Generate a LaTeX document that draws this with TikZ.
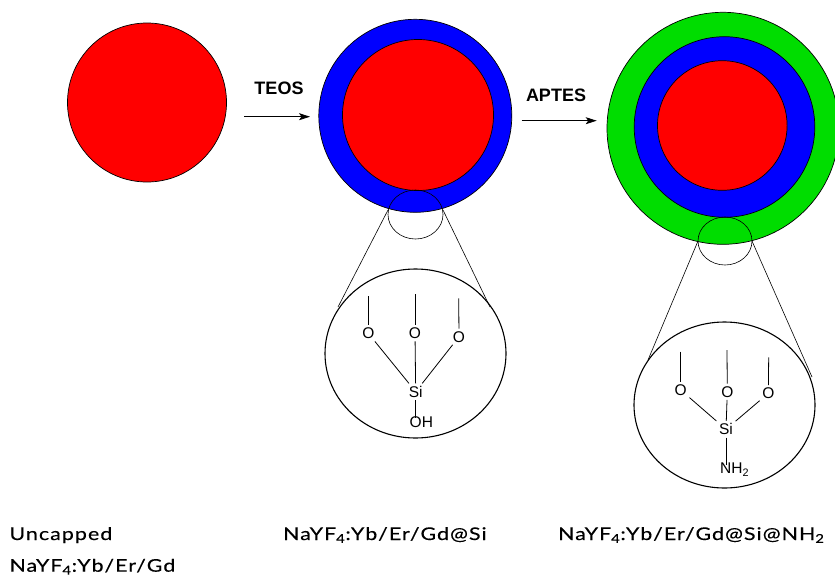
\documentclass[tikz,border=0pt]{standalone}
\usepackage{fontspec}
\setmainfont{Liberation Sans}
\newfontfamily\capfont[LetterSpace=5,FakeBold=0.3]{Lato}
\newcommand{\captext}[1]{\scalebox{1.22}[1]{#1}}
\usetikzlibrary{arrows.meta}
\definecolor{corered}{RGB}{255,0,0}
\definecolor{silicablue}{RGB}{0,0,255}
\definecolor{aminegreen}{RGB}{0,221,0}
\tikzset{
  shell/.style={draw=black, line width=0.7pt},
  lens/.style={draw=black, line width=0.6pt},
  zoomring/.style={draw=black, line width=1.1pt},
  bond/.style={draw=black, line width=0.8pt},
  atom/.style={inner sep=2.5pt, text depth=0pt, font=\fontsize{15.5}{15.5}\selectfont},
  reagent/.style={inner sep=0pt, font=\fontsize{18}{18}\selectfont\bfseries},
  react/.style={line width=0.8pt, -{Stealth[length=11pt,width=7pt,inset=2.5pt]}},
  caption/.style={inner sep=0pt, anchor=base west, font=\capfont\fontsize{17.5}{17.5}\selectfont},
}
\begin{document}
\begin{tikzpicture}[x=1pt,y=-1pt]
\useasboundingbox (0,0) rectangle (835,584);

% bare core
\fill[corered, shell] (147,102.5) circle (79.5);

% silica-coated particle
\fill[silicablue, shell] (415.3,115.8) circle (96.5);
\fill[corered, shell] (418,115) circle (75.5);

% amine-functionalised particle
\fill[aminegreen, shell] (723,128.3) circle (116);
\fill[silicablue, shell] (724.5,127) circle (90.3);
\fill[corered, shell] (722.3,125.5) circle (64.8);

% reaction arrows
\coordinate (a1s) at (244,116.7);
\coordinate (a1e) at (310,116.7);
\coordinate (a2s) at (521.7,120.7);
\coordinate (a2e) at (596.7,120.7);
\draw[react] (a1s) -- (a1e);
\draw[react] (a2s) -- (a2e);
\node[reagent] (teos) at (279,88.8) {TEOS};
\node[reagent] (aptes) at (556,95) {APTES};

% magnified surface: silanol
\draw[lens] (415.5,214.5) ellipse (27.5 and 24.5);
\coordinate (l1a) at (388,210);
\coordinate (l1b) at (338,307);
\coordinate (r1a) at (443,210);
\coordinate (r1b) at (490,307);
\draw[lens] (l1a) -- (l1b);
\draw[lens] (r1a) -- (r1b);
\draw[zoomring] (415.5,353.5) ellipse (90.5 and 84.5);

\node[atom] (o11) at (368.3,333.3) {O};
\node[atom] (o12) at (415,333.3) {O};
\node[atom] (o13) at (459,336.7) {O};
\node[atom] (si1) at (415.7,391.7) {Si};
\node[atom, anchor=west, inner sep=0pt] (oh) at (409.5,421.7) {OH};
\coordinate (m11) at (368.3,296);
\coordinate (m12) at (415,294);
\coordinate (m13) at (458.7,298.3);
\draw[bond] (m11) -- (o11);
\draw[bond] (m12) -- (o12);
\draw[bond] (m13) -- (o13);
\draw[bond] (o11) -- (si1);
\draw[bond] (o12) -- (si1);
\draw[bond] (o13) -- (si1);
\draw[bond] (si1) -- ([yshift=-2pt]si1 |- oh.north);

% magnified surface: aminopropyl silane
\draw[lens] (725,241) ellipse (27 and 24);
\coordinate (l2a) at (698,241);
\coordinate (l2b) at (648,360);
\coordinate (r2a) at (752,241);
\coordinate (r2b) at (812,377);
\draw[lens] (l2a) -- (l2b);
\draw[lens] (r2a) -- (r2b);
\draw[zoomring] (724.5,405) ellipse (90.5 and 83);

\node[atom] (o21) at (680.7,390) {O};
\node[atom] (o22) at (727.3,391.7) {O};
\node[atom] (o23) at (768.3,393.3) {O};
\node[atom] (si2) at (726,429.3) {Si};
\node[atom, anchor=west, inner sep=0pt] (nh) at (720,468.3) {NH\textsubscript{2}};
\coordinate (m21) at (680.7,351.7);
\coordinate (m22) at (727,350);
\coordinate (m23) at (768.7,357.3);
\draw[bond] (m21) -- (o21);
\draw[bond] (m22) -- (o22);
\draw[bond] (m23) -- (o23);
\draw[bond] (o21) -- (si2);
\draw[bond] (o22) -- (si2);
\draw[bond] (o23) -- (si2);
\draw[bond] (si2) -- ([yshift=-2pt]si2 |- nh.north);

% captions
\node[caption] (c1) at (9.3,540) {\captext{Uncapped}};
\node[caption] (c1b) at (9.3,571.7) {\captext{NaYF\textsubscript{4}:Yb/Er/Gd}};
\node[caption] (c2) at (283,540) {\captext{NaYF\textsubscript{4}:Yb/Er/Gd@Si}};
\node[caption] (c3) at (558,540) {\captext{NaYF\textsubscript{4}:Yb/Er/Gd@Si@NH\textsubscript{2}}};
\end{tikzpicture}
\end{document}
